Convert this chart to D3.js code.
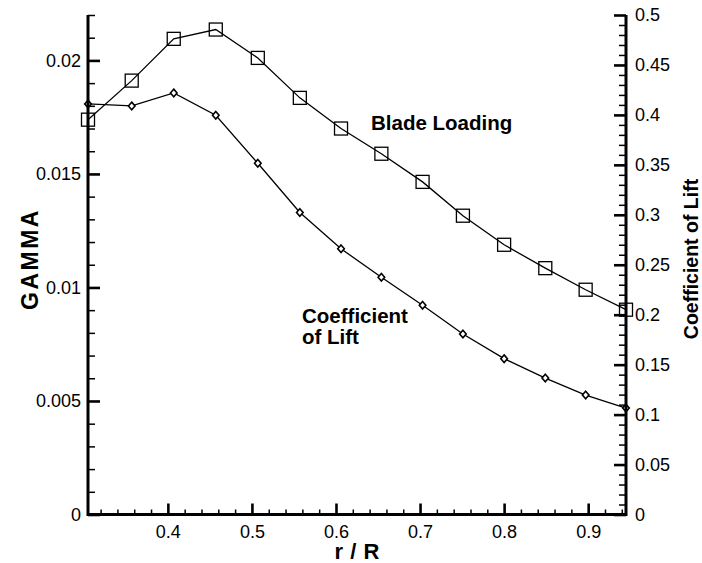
<!DOCTYPE html>
<html>
<head>
<meta charset="utf-8">
<script src="https://cdn.jsdelivr.net/npm/d3@7"></script>
<style>
  body { margin: 0; background: #fff; }
  svg { display: block; }
  text { font-family: "Liberation Sans", Arial, Helvetica, sans-serif; fill: #000; }
</style>
</head>
<body>
<svg id="chart" width="702" height="563"></svg>
<script>
// Radial stations (r/R)
const rOverR = [0.305, 0.357, 0.407, 0.457, 0.507, 0.557, 0.606, 0.654, 0.703, 0.751, 0.800, 0.849, 0.897, 0.945];
// Blade loading, GAMMA (left axis)
const gamma = [0.01739, 0.01911, 0.02095, 0.02136, 0.02011, 0.01835, 0.01700, 0.01589, 0.01465, 0.01316, 0.01188, 0.01085, 0.00990, 0.00902];
// Coefficient of lift (right axis)
const liftCoef = [0.411, 0.409, 0.422, 0.3996, 0.3516, 0.3023, 0.266, 0.2374, 0.2095, 0.1807, 0.156, 0.1366, 0.1196, 0.1066];

const xTicks = [0.4, 0.5, 0.6, 0.7, 0.8, 0.9];
const xTickLabels = ["0.4", "0.5", "0.6", "0.7", "0.8", "0.9"];
const gammaTicks = [0, 0.005, 0.01, 0.015, 0.02];
const gammaTickLabels = ["0", "0.005", "0.01", "0.015", "0.02"];
const liftTicks = [0, 0.05, 0.1, 0.15, 0.2, 0.25, 0.3, 0.35, 0.4, 0.45, 0.5];
const liftTickLabels = ["0", "0.05", "0.1", "0.15", "0.2", "0.25", "0.3", "0.35", "0.4", "0.45", "0.5"];

const xMinor = d3.range(16, 48).filter(i => i % 5 !== 0).map(i => i / 50);
const gammaMinor = d3.range(0, 23).filter(i => i % 5 !== 0).map(i => i / 1000);
const liftMinor = d3.range(0, 51).filter(i => i % 5 !== 0).map(i => i / 100);

const svg = d3.select("#chart");

const x = d3.scaleLinear().domain([0.305, 0.945]).range([88, 626]);
const yG = d3.scaleLinear().domain([0, 0.022]).range([514.5, 15]);
const yC = d3.scaleLinear().domain([0, 0.5]).range([514.5, 15]);

// Curves
const gammaLine = d3.line().x((d, i) => x(rOverR[i])).y(d => yG(d));
const liftLine = d3.line().x((d, i) => x(rOverR[i])).y(d => yC(d));

svg.append("path").datum(gamma).attr("d", gammaLine)
  .attr("fill", "none").attr("stroke", "#000").attr("stroke-width", 1.3);
svg.append("path").datum(liftCoef).attr("d", liftLine)
  .attr("fill", "none").attr("stroke", "#000").attr("stroke-width", 1.3);

// Markers
const sq = 13;
svg.append("g").selectAll("rect").data(gamma).join("rect")
  .attr("x", (d, i) => x(rOverR[i]) - sq / 2)
  .attr("y", d => yG(d) - sq / 2)
  .attr("width", sq).attr("height", sq)
  .attr("fill", "none").attr("stroke", "#000").attr("stroke-width", 1.3);

svg.append("g").selectAll("path").data(liftCoef).join("path")
  .attr("transform", (d, i) => `translate(${x(rOverR[i])},${yC(d)})`)
  .attr("d", "M0,-3.8L3.3,0L0,3.8L-3.3,0Z")
  .attr("fill", "#fff").attr("stroke", "#000").attr("stroke-width", 1.6);

// Axes with inward ticks
function styleAxis(g, width) {
  g.selectAll(".domain").remove();
  g.selectAll(".tick line").attr("stroke", "#000").attr("stroke-width", width);
  g.selectAll(".tick text").attr("font-size", "18px").attr("fill", "#000");
}

// Minor ticks
svg.append("g").attr("transform", "translate(0,514.5)")
  .call(d3.axisBottom(x).tickValues(xMinor).tickSize(-5).tickFormat(""))
  .call(g => styleAxis(g, 1.5));
svg.append("g").attr("transform", "translate(88,0)")
  .call(d3.axisLeft(yG).tickValues(gammaMinor).tickSize(-7).tickFormat(""))
  .call(g => styleAxis(g, 1.5));
svg.append("g").attr("transform", "translate(626,0)")
  .call(d3.axisRight(yC).tickValues(liftMinor).tickSize(-7).tickFormat(""))
  .call(g => styleAxis(g, 1.5));

// Major ticks and labels
svg.append("g").attr("transform", "translate(0,514.5)")
  .call(d3.axisBottom(x).tickValues(xTicks).tickSize(-11).tickPadding(11)
    .tickFormat((d, i) => xTickLabels[i]))
  .call(g => styleAxis(g, 2.6));
svg.append("g").attr("transform", "translate(88,0)")
  .call(d3.axisLeft(yG).tickValues(gammaTicks).tickSize(-12).tickPadding(7)
    .tickFormat((d, i) => gammaTickLabels[i]))
  .call(g => styleAxis(g, 2.6));
svg.append("g").attr("transform", "translate(626,0)")
  .call(d3.axisRight(yC).tickValues(liftTicks).tickSize(-12).tickPadding(9)
    .tickFormat((d, i) => liftTickLabels[i]))
  .call(g => styleAxis(g, 2.6));

// Axis lines (open at the top)
svg.append("path")
  .attr("d", `M${x.range()[0]},${yG.range()[1]}V${yG.range()[0]}H${x.range()[1]}V${yC.range()[1]}`)
  .attr("fill", "none").attr("stroke", "#000").attr("stroke-width", 3)
  .attr("stroke-linejoin", "miter");

// Axis titles
svg.append("text").attr("transform", "translate(38,259) rotate(-90)")
  .attr("text-anchor", "middle").attr("font-size", "23px").attr("font-weight", "bold")
  .attr("letter-spacing", "2.5px").text("GAMMA");
svg.append("text").attr("transform", "translate(698,259) rotate(-90)")
  .attr("text-anchor", "middle").attr("font-size", "19.5px").attr("font-weight", "bold")
  .text("Coefficient of Lift");
svg.append("text").attr("x", 357).attr("y", 559)
  .attr("text-anchor", "middle").attr("font-size", "22px").attr("font-weight", "bold")
  .attr("word-spacing", "1px").text("r / R");

// Curve annotations
svg.append("text").attr("x", 371).attr("y", 130)
  .attr("font-size", "20.5px").attr("font-weight", "bold").text("Blade Loading");
const cl = svg.append("text").attr("x", 302).attr("y", 322.5)
  .attr("font-size", "20.5px").attr("font-weight", "bold");
cl.append("tspan").attr("x", 302).text("Coefficient");
cl.append("tspan").attr("x", 302).attr("y", 344).text("of Lift");
</script>
</body>
</html>
